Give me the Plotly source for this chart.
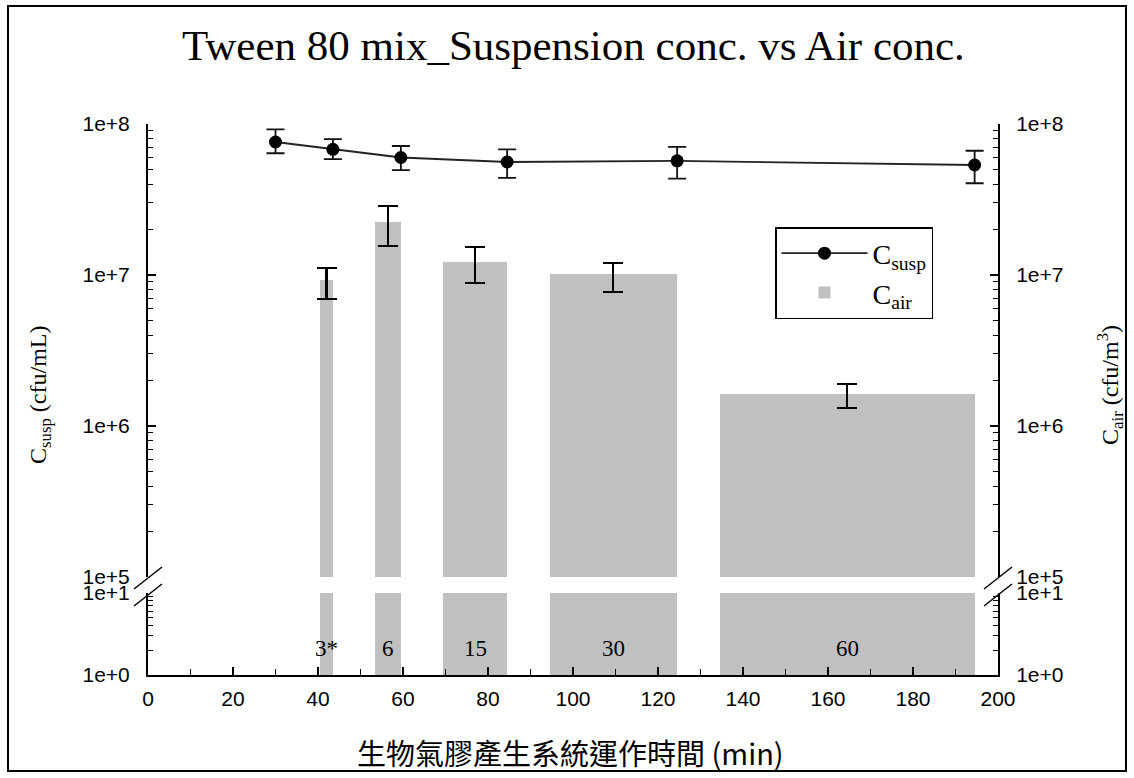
import plotly.graph_objects as go
import math

# ---------------- data ----------------
susp_time = [30, 43.5, 59.5, 84.5, 124.5, 194.5]
susp_conc = [7.6e7, 6.8e7, 6.0e7, 5.6e7, 5.7e7, 5.35e7]
susp_err_plus = [1.6e7, 1.15e7, 1.15e7, 1.2e7, 1.35e7, 1.3e7]
susp_err_minus = [1.2e7, 0.95e7, 1.05e7, 1.2e7, 1.35e7, 1.3e7]

air_end_time = [43.5, 59.5, 84.5, 124.5, 194.5]
air_duration = [3, 6, 15, 30, 60]
air_conc = [9.2e6, 2.24e7, 1.22e7, 1.02e7, 1.63e6]
air_err_plus = [1.9e6, 6.2e6, 3.1e6, 1.8e6, 2.7e5]
air_err_minus = [2.3e6, 6.9e6, 3.35e6, 2.5e6, 3.1e5]
air_labels = ["3*", "6", "15", "30", "60"]

upper_ticks = [1e5, 1e6, 1e7, 1e8]
upper_ticktext = ["1e+5", "1e+6", "1e+7", "1e+8"]
upper_minor = [m * 10 ** e for e in (5, 6, 7) for m in range(2, 10)]
lower_ticks = [1e0, 1e1]
lower_ticktext = ["1e+0", "1e+1"]
lower_minor = [m for m in range(2, 10)]
x_ticks = list(range(0, 201, 20))
x_top_ticks = list(range(10, 200, 20))

lower_fill = 10  # top of the lower (broken) axis segment

# ---------------- layout geometry ----------------
W, H = 1134, 778
ML, MR, MT, MB = 148, 136, 124, 103
PW = W - ML - MR
PH = H - MT - MB
upper_dom = [(675 - 577) / PH, 1.0]
lower_dom = [0.0, (675 - 593) / PH]

def px_x(p):
    return (p - ML) / PW

def px_y(p):
    return (H - MB - p) / PH

bar_color = "#c0c0c0"
serif = "Liberation Serif, Times New Roman, serif"
sans = "Liberation Sans, Arial, sans-serif"

fig = go.Figure()

bar_offset = [-d for d in air_duration]

fig.add_trace(go.Bar(
    x=air_end_time, y=air_conc, width=air_duration, offset=bar_offset,
    xaxis="x", yaxis="y3", marker=dict(color=bar_color, line=dict(width=0)),
    error_y=dict(type="data", symmetric=False, array=air_err_plus,
                 arrayminus=air_err_minus, color="black", thickness=2.2, width=10),
    name="C<sub>air</sub>", legendrank=2,
))
fig.add_trace(go.Bar(
    x=air_end_time, y=[lower_fill] * len(air_end_time), width=air_duration,
    offset=bar_offset, xaxis="x", yaxis="y4",
    marker=dict(color=bar_color, line=dict(width=0)), showlegend=False,
    hoverinfo="skip",
))
fig.add_trace(go.Scatter(
    x=susp_time, y=susp_conc, mode="lines+markers", xaxis="x", yaxis="y",
    line=dict(color="#222222", width=1.8),
    marker=dict(color="black", size=13),
    error_y=dict(type="data", symmetric=False, array=susp_err_plus,
                 arrayminus=susp_err_minus, color="#111111", thickness=1.8, width=9),
    name="C<sub>susp</sub>", legendrank=1,
))

axis_common = dict(showline=True, linecolor="black", linewidth=2,
                   ticks="inside", tickcolor="black", tickwidth=1.5,
                   showgrid=False, zeroline=False,
                   tickfont=dict(family=sans, size=21, color="black"))

def ymin(vals):
    return dict(ticks="inside", ticklen=5, tickcolor="black", tickwidth=1.2,
                tickmode="array", tickvals=vals, showgrid=False)

fig.update_layout(
    width=W, height=H, margin=dict(l=ML, r=MR, t=MT, b=MB),
    paper_bgcolor="white", plot_bgcolor="white",
    bargap=0, barmode="overlay",
    xaxis=dict(range=[0, 200], anchor="y2", side="bottom",
               tickvals=x_ticks, ticklen=8, ticklabelstandoff=4,
               minor=dict(ticks="inside", ticklen=6, dtick=10, tick0=0,
                          tickcolor="black", tickwidth=1.2),
               **axis_common),
    xaxis2=dict(range=[0, 200], overlaying="x", anchor="y", side="top",
                tickvals=x_top_ticks, ticklen=6, showticklabels=False,
                **axis_common),
    yaxis=dict(type="log", range=[5, 8], domain=upper_dom, anchor="x",
               side="left", tickvals=upper_ticks, ticktext=upper_ticktext,
               ticklen=8, ticklabelstandoff=12, minor=ymin(upper_minor), **axis_common),
    yaxis2=dict(type="log", range=[0, 1], domain=lower_dom, anchor="x",
                side="left", tickvals=lower_ticks, ticktext=lower_ticktext,
                ticklen=8, ticklabelstandoff=12, minor=ymin(lower_minor), **axis_common),
    yaxis3=dict(type="log", range=[5, 8], overlaying="y", anchor="x",
                side="right", tickvals=upper_ticks, ticktext=upper_ticktext,
                ticklen=8, ticklabelstandoff=12, minor=ymin(upper_minor), **axis_common),
    yaxis4=dict(type="log", range=[0, 1], overlaying="y2", anchor="x",
                side="right", tickvals=lower_ticks, ticktext=lower_ticktext,
                ticklen=8, ticklabelstandoff=12, minor=ymin(lower_minor), **axis_common),
    legend=dict(x=px_x(775), y=px_y(227), xanchor="left", yanchor="top",
                bordercolor="black", borderwidth=1.5, bgcolor="white",
                font=dict(family=serif, size=28, color="black"),
                itemwidth=86, tracegroupgap=8,
                traceorder="normal"),
    showlegend=True,
)

annotations = [
    dict(text="Tween 80 mix_Suspension conc. vs Air conc.", x=px_x(573), y=px_y(45),
         xref="paper", yref="paper", showarrow=False,
         xanchor="center", yanchor="middle",
         font=dict(family=serif, size=43, color="black")),
    dict(text="C<sub>susp</sub> (cfu/mL)", x=px_x(40), y=px_y(395),
         xref="paper", yref="paper", showarrow=False, textangle=-90,
         xanchor="center", yanchor="middle",
         font=dict(family=serif, size=24, color="black")),
    dict(text="C<sub>air</sub> (cfu/m<sup>3</sup>)", x=px_x(1110), y=px_y(385),
         xref="paper", yref="paper", showarrow=False, textangle=-90,
         xanchor="center", yanchor="middle",
         font=dict(family=serif, size=24, color="black")),
    dict(text="生物氣膠產生系統運作時間 (min)", x=px_x(570), y=px_y(752),
         xref="paper", yref="paper", showarrow=False,
         xanchor="center", yanchor="middle",
         font=dict(family="Noto Sans CJK TC", size=29, color="black")),
]
for t_end, dur, lab in zip(air_end_time, air_duration, air_labels):
    annotations.append(dict(text=lab, x=t_end - dur / 2, y=math.log10(2.1),
                            xref="x", yref="y2", showarrow=False,
                            xanchor="center", yanchor="middle",
                            font=dict(family=serif, size=23, color="black")))
fig.update_layout(annotations=annotations)

# axis-break marks and outer frame
shapes = [dict(type="rect", xref="paper", yref="paper",
               x0=px_x(8), x1=px_x(1126), y0=px_y(6), y1=px_y(771),
               line=dict(color="black", width=2))]
for cx in (ML, ML + PW):
    for cy in (578, 595):
        shapes.append(dict(type="line", xref="paper", yref="paper",
                           x0=px_x(cx - 14), y0=px_y(cy + 11),
                           x1=px_x(cx + 14), y1=px_y(cy - 11),
                           line=dict(color="black", width=1.5)))
fig.update_layout(shapes=shapes)

fig.write_html("out.html")
